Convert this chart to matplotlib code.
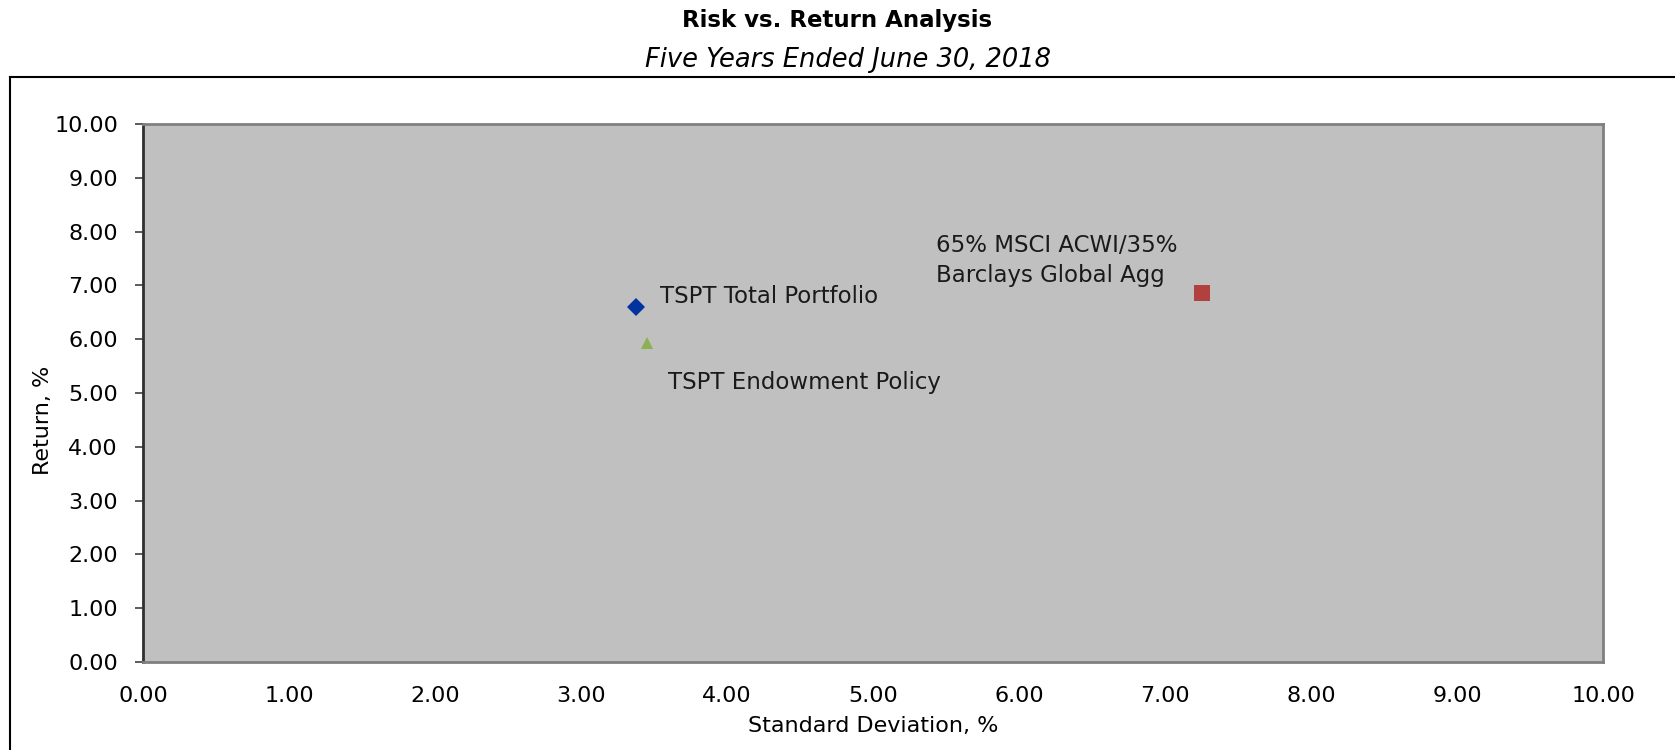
import matplotlib
matplotlib.use("Agg")
import matplotlib.pyplot as plt
from matplotlib.lines import Line2D

plt.rcParams['font.family'] = ['DejaVu Sans']

# data
names = ['TSPT Total Portfolio', 'TSPT Endowment Policy',
         '65% MSCI ACWI/35%\nBarclays Global Agg']
std_dev = [3.38, 3.45, 7.25]
returns = [6.60, 5.93, 6.85]
tick_vals = [0, 1, 2, 3, 4, 5, 6, 7, 8, 9, 10]

# styles
markers = ['D', '^', 's']
colors = ['#0033A0', '#8DB050', '#B0413E']
msizes = [9.5, 8, 11]
label_offsets = [(24, 10), (21, -40), (-24, 33)]
label_ha = ['left', 'left', 'right']

fig = plt.figure(figsize=(16.75, 7.5), dpi=100)
ax = fig.add_axes([143 / 1675, 1 - 662 / 750, 1460 / 1675, 538 / 750])
ax.set_facecolor('#C0C0C0')

for x, y, m, c, s in zip(std_dev, returns, markers, colors, msizes):
    ax.plot(x, y, marker=m, color=c, markersize=s, linestyle='none',
            markeredgewidth=0)

for name, x, y, off, ha in zip(names, std_dev, returns, label_offsets, label_ha):
    ax.annotate(name, (x, y), xytext=off, textcoords='offset pixels',
                ha=ha, va='center', fontsize=16.5, color='#1a1a1a',
                linespacing=1.35, multialignment='left')

ax.set_xlim(0, 10)
ax.set_ylim(0, 10)
ax.set_xticks(tick_vals)
ax.set_yticks(tick_vals)
ax.set_xticklabels([f'{v:.2f}' for v in tick_vals])
ax.set_yticklabels([f'{v:.2f}' for v in tick_vals])
ax.tick_params(axis='x', length=0, pad=17, labelsize=16)
ax.tick_params(axis='y', length=6, width=1.2, color='#404040', pad=12,
               labelsize=16, direction='out')

ax.spines['left'].set_color('#303030')
ax.spines['left'].set_linewidth(2)
for side in ['top', 'right', 'bottom']:
    ax.spines[side].set_color('#808080')
    ax.spines[side].set_linewidth(2)

ax.set_xlabel('Standard Deviation, %', fontsize=16)
ax.set_ylabel('Return, %', fontsize=16)
ax.xaxis.set_label_coords(0.5, -0.101)
ax.yaxis.set_label_coords(-0.0616, 0.45)

fig.text(0.5, 1 - 20 / 750, 'Risk vs. Return Analysis', ha='center',
         va='center', fontsize=16.5, fontweight='bold')
fig.text(848 / 1675, 1 - 60 / 750, 'Five Years Ended June 30, 2018',
         ha='center', va='center', fontsize=18.5, style='italic')

# outer chart frame (only top and left edges visible)
fig.add_artist(Line2D([10 / 1675, 1], [1 - 77 / 750, 1 - 77 / 750],
                      transform=fig.transFigure, color='black', linewidth=1.5))
fig.add_artist(Line2D([10 / 1675, 10 / 1675], [0, 1 - 77 / 750],
                      transform=fig.transFigure, color='black', linewidth=1.5))

fig.savefig('out.png', dpi=100)
